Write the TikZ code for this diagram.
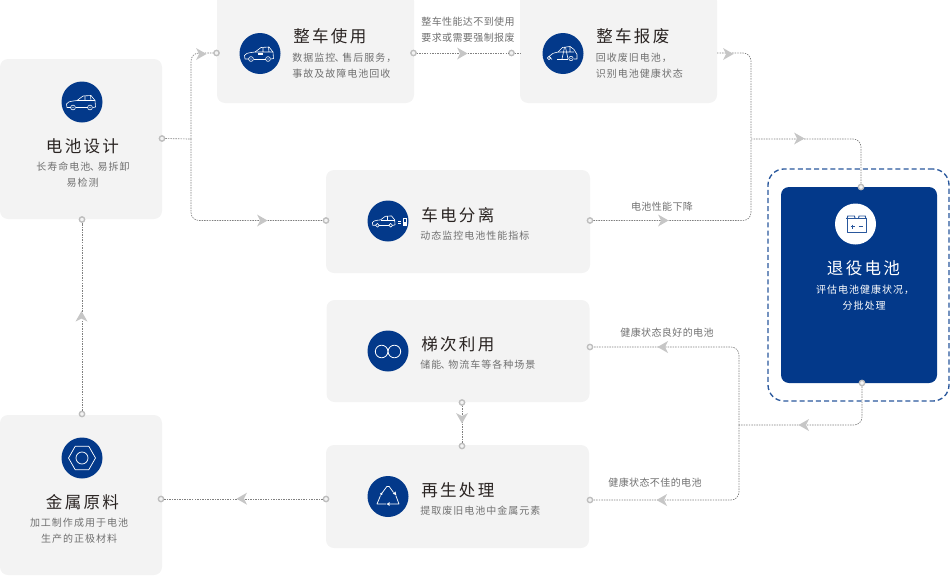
\documentclass[tikz,border=0pt]{standalone}
\usepackage{fontspec}
\setmainfont{Noto Sans CJK SC}
\newfontfamily\ttlfont[LetterSpace=14]{Noto Sans CJK SC}
\newfontfamily\subfont[LetterSpace=10]{Noto Sans CJK SC}
\newfontfamily\lblfont[LetterSpace=4]{Noto Sans CJK SC}
\definecolor{brandblue}{HTML}{03398A}
\definecolor{cardgrey}{HTML}{F3F3F3}
\definecolor{titleink}{HTML}{2A2422}
\definecolor{subink}{HTML}{707070}
\definecolor{wire}{HTML}{808080}
\definecolor{headgrey}{HTML}{C6C6C6}
\definecolor{ringgrey}{HTML}{BDBDBD}
\def\pxu{0.75pt}
\newcommand{\narrowcomma}{\kern-0.4pt、\kern-1.8pt}
\tikzset{
  card/.style={rectangle,rounded corners=6pt,fill=cardgrey,inner sep=0pt},
  blucard/.style={rectangle,rounded corners=6pt,fill=brandblue,inner sep=0pt},
  iconbg/.style={circle,fill=brandblue,minimum size=41*\pxu,inner sep=0pt},
  iconbgw/.style={circle,fill=white,minimum size=41*\pxu,inner sep=0pt},
  dotring/.style={circle,draw=ringgrey,line width=1pt,fill=cardgrey,minimum size=4pt,inner sep=0pt},
  conn/.style={draw=wire,line width=0.5pt,dash pattern=on 1.1pt off 0.8pt},
  roundbend/.style={rounded corners=6pt},
  ttl/.style={inner sep=0pt,text=titleink,font=\ttlfont\fontsize{12.4pt}{14pt}\selectfont},
  subt/.style={inner sep=0pt,text=subink,font=\subfont\fontsize{7.5pt}{9pt}\selectfont},
  lbl/.style={inner sep=0pt,text=subink,font=\lblfont\fontsize{7.5pt}{9pt}\selectfont},
  iconline/.style={draw=white,line width=0.45pt,line join=round},
  blueline/.style={draw=brandblue!85!white,line width=0.7pt,line join=round},
  flowhead/.pic={\fill[headgrey] (5.5,0) -- (-5,-6) -- (-2,0) -- (-5,6) -- cycle;},
  caricon/.pic={
    \draw[iconline] (-11,5.5) -- (-15,5.5) -- (-15.5,2) .. controls (-15,0) and (-13,-.5) .. (-5,-1.5) -- (1,-6) -- (9,-6.5) -- (13,-1.5) -- (13.5,5) -- (11,5.5);
    \draw[iconline] (-6.5,5.5) -- (5.5,5.5);
    \draw[iconline] (-5,-1.5) -- (13,-1.5) (3,-6.3) -- (3,-1.5) (8.5,-6.4) -- (9,-1.5);
    \draw[iconline] (-9,5.5) circle (2.4) (8,5.5) circle (2.4);
    \fill[white] (-9,5.5) circle (.7) (8,5.5) circle (.7);
  },
  scrapicon/.pic={
    \draw[iconline] (-11,6) -- (-14,3) .. controls (-12,0) and (-9,-.5) .. (-5,-1.5) -- (-0.5,-6) -- (7,-7) -- (11,-4) -- (14,1) -- (14,5.5) -- (11,5.5);
    \draw[iconline] (-5,-1.5) -- (11,-1.5) (1.5,-6.3) -- (-1,5.5) (2.5,-6.3) -- (5,5.5) (7,-7) -- (7,-1.5);
    \draw[iconline] (-6,5.5) -- (5,5.5);
    \draw[iconline] (-14,4.5) circle (1.8) (8,5) circle (2.2);
    \fill[white] (-14,4.5) circle (.6) (8,5) circle (.6);
  },
  infinityicon/.pic={\draw[iconline,line width=0.6pt] (-6.4,0.5) circle (6.3) (6.4,0.5) circle (6.3);},
  nuticon/.pic={
    \draw[iconline,line width=0.55pt] (-13.5,0) -- (-6.8,-11.7) -- (6.8,-11.7) -- (13.5,0) -- (6.8,11.7) -- (-6.8,11.7) -- cycle;
    \draw[iconline,line width=0.55pt] (0,0) circle (6);
  },
  recycleicon/.pic={
    \draw[iconline,line width=0.55pt] (-6.3,-3) -- (-1.2,-10) -- (1.2,-10) -- (5.5,-4);
    \draw[iconline,line width=0.55pt] (7.8,-1) -- (11,7.5) -- (2,7.5);
    \draw[iconline,line width=0.55pt] (-2,7.5) -- (-11,7.5) -- (-7.5,-1);
    \fill[white] (7.5,-5) -- (4.8,-2.8) -- (8.3,-1.3) -- cycle;
    \fill[white] (-6.7,-2.6) circle (1.3);
    \fill[white] (-1.5,7.5) -- (1.5,5.7) -- (1.5,9.3) -- cycle;
  },
  sepicon/.pic={
    \begin{scope}[shift={(-3.5,0)},scale=.78]
      \draw[iconline] (-11,5.5) -- (-15,5.5) -- (-15.5,2) .. controls (-15,0) and (-13,-.5) .. (-5,-1.5) -- (1,-6) -- (9,-6.5) -- (13,-1.5) -- (13.5,5) -- (11,5.5);
      \draw[iconline] (-6.5,5.5) -- (5.5,5.5);
      \draw[iconline] (-5,-1.5) -- (13,-1.5) (3,-6.3) -- (3,-1.5);
      \draw[iconline] (-9,5.5) circle (2.4) (8,5.5) circle (2.4);
    \end{scope}
    \draw[iconline,line width=0.6pt] (10,.2) -- (12.5,.2) (10,2.4) -- (12.5,2.4);
    \fill[white] (15,-2.8) rectangle (18.6,5);
    \fill[brandblue] (15.9,-1.8) rectangle (17.7,.6);
  },
  batteryicon/.pic={
    \draw[blueline] (-9.5,-5.7) -- (11.5,-5.7);
    \draw[blueline] (-8.5,-5.7) rectangle (10.5,8.5);
    \draw[blueline] (-8.3,-5.7) -- (-7.8,-8) -- (-1,-8) -- (-.5,-5.7);
    \draw[blueline] (3,-5.7) -- (3.5,-8) -- (9.8,-8) -- (10.3,-5.7);
    \draw[blueline] (-5,2.5) -- (-1,2.5) (-3,.5) -- (-3,4.5) (3,2.5) -- (7,2.5);
  },
}
\begin{document}
\begin{tikzpicture}[x=0.75pt,y=-0.75pt]
\useasboundingbox (0,0) rectangle (950,575);
\clip (0,0) rectangle (950,575);
% cards
\node[card,minimum width=162*\pxu,minimum height=160*\pxu] (cDesign) at (81,139) {};
\node[card,minimum width=197*\pxu,minimum height=110*\pxu] (cUse) at (315.5,48) {};
\node[card,minimum width=197*\pxu,minimum height=110*\pxu] (cScrap) at (618.5,48) {};
\node[card,minimum width=264*\pxu,minimum height=103*\pxu] (cSep) at (458,221.5) {};
\node[card,minimum width=263*\pxu,minimum height=102*\pxu] (cLadder) at (458,351) {};
\node[card,minimum width=263*\pxu,minimum height=103*\pxu] (cRegen) at (457.5,496.5) {};
\node[card,minimum width=162*\pxu,minimum height=160*\pxu] (cMetal) at (81,495) {};
\node[rectangle,rounded corners=12pt,draw=brandblue!85!white,line width=1pt,dash pattern=on 3.8pt off 2.3pt,minimum width=181*\pxu,minimum height=232*\pxu,inner sep=0pt] (cFrame) at (858.5,285) {};
\node[blucard,minimum width=156*\pxu,minimum height=196*\pxu] (cRetired) at (859,285) {};
% icons
\node[iconbg] (iDesign) at (82,102) {};
\pic at (iDesign) {caricon};
\node[iconbg] (iUse) at (260,53.5) {};
\pic at (iUse) {caricon};
\fill[white] (258,53) rectangle (263,55);
\node[iconbg] (iScrap) at (563,53.5) {};
\pic at (iScrap) {scrapicon};
\node[iconbg] (iSep) at (388,221) {};
\pic at (iSep) {sepicon};
\node[iconbg] (iLadder) at (388,351) {};
\pic at (iLadder) {infinityicon};
\node[iconbg] (iRegen) at (388,496.5) {};
\pic at (iRegen) {recycleicon};
\node[iconbg] (iMetal) at (82,458) {};
\pic at (iMetal) {nuticon};
\node[iconbgw] (iRetired) at (855.5,224) {};
\pic at (iRetired) {batteryicon};
% titles and subtitles
\node[ttl] (tDesign) at (82.5,146) {电池设计};
\node[subt] (sDesignA) at (83,167) {长寿命电池\narrowcomma 易拆卸};
\node[subt] (sDesignB) at (82.5,183) {易检测};
\node[ttl,anchor=west] (tUse) at (293,36.5) {整车使用};
\node[subt,anchor=west] (sUseA) at (292,57.5) {数据监控\narrowcomma 售后服务，};
\node[subt,anchor=west] (sUseB) at (292,74) {事故及故障电池回收};
\node[ttl,anchor=west] (tScrap) at (596,36.5) {整车报废};
\node[subt,anchor=west] (sScrapA) at (595.5,58) {回收废旧电池，};
\node[subt,anchor=west] (sScrapB) at (595.5,74) {识别电池健康状态};
\node[ttl,anchor=west] (tSep) at (421,215) {车电分离};
\node[subt,anchor=west] (sSep) at (420,236) {动态监控电池性能指标};
\node[ttl,anchor=west] (tLadder) at (421,344) {梯次利用};
\node[subt,anchor=west] (sLadder) at (420,365) {储能\narrowcomma 物流车等各种场景};
\node[ttl,anchor=west] (tRegen) at (421,490) {再生处理};
\node[subt,anchor=west] (sRegen) at (420,511) {提取废旧电池中金属元素};
\node[ttl] (tMetal) at (82.5,502) {金属原料};
\node[subt] (sMetalA) at (79,523) {加工制作成用于电池};
\node[subt] (sMetalB) at (79,539) {生产的正极材料};
\node[ttl,text=white] (tRetired) at (863.5,268) {退役电池};
\node[subt,text=white] (sRetiredA) at (865,289.5) {评估电池健康状况，};
\node[subt,text=white] (sRetiredB) at (864,305.5) {分批处理};
% connector labels
\node[lbl] (lUseA) at (468,22) {整车性能达不到使用};
\node[lbl] (lUseB) at (468,37.5) {要求或需要强制报废};
\node[lbl] (lDrop) at (662,206.5) {电池性能下降};
\node[lbl] (lGood) at (667,332.5) {健康状态良好的电池};
\node[lbl] (lBad) at (655,482.5) {健康状态不佳的电池};
% ports
\node[dotring] (pDesignR) at (162,138.5) {};
\node[dotring] (pDesignB) at (82,219.5) {};
\node[dotring] (pUseL) at (216.5,53) {};
\node[dotring] (pUseR) at (413.5,53) {};
\node[dotring] (pScrapL) at (511.5,53) {};
\node[dotring] (pSepL) at (326,220.5) {};
\node[dotring] (pSepR) at (590,220.5) {};
\node[dotring] (pRetT) at (861,187) {};
\node[dotring] (pRetB) at (862,383) {};
\node[dotring] (pLadR) at (590,347) {};
\node[dotring] (pLadB) at (462,402.5) {};
\node[dotring] (pRegT) at (462,446) {};
\node[dotring] (pRegR) at (590,500) {};
\node[dotring] (pRegL) at (326,499) {};
\node[dotring] (pMetR) at (161,499) {};
\node[dotring] (pMetT) at (82,414) {};
\coordinate (jLeft) at (191,139);
\coordinate (jRight) at (751,139);
\coordinate (jBack) at (739,425);
\coordinate (sScrapOut) at (717,53);
\coordinate (sScrapIn) at (520,53);
% connectors
\draw[conn] (pDesignR) -- (jLeft);
\draw[conn,roundbend] (jLeft) |- (pUseL);
\draw[conn,roundbend] (jLeft) |- (pSepL);
\draw[conn] (pUseR) -- (pScrapL);
\draw[conn] (pScrapL) -- (sScrapIn);
\draw[conn,roundbend] (sScrapOut) -| (jRight);
\draw[conn,roundbend] (pSepR) -| (jRight);
\draw[conn,roundbend] (jRight) -| (pRetT);
\draw[conn,roundbend] (pRetB) |- (jBack);
\draw[conn,roundbend] (jBack) |- (pLadR);
\draw[conn,roundbend] (jBack) |- (pRegR);
\draw[conn] (pLadB) -- (pRegT);
\draw[conn] (pRegL) -- (pMetR);
\draw[conn] (pMetT) -- (pDesignB);
% arrowheads
\pic at (201,54) {flowhead};
\pic at (262,220.5) {flowhead};
\pic at (462,53.5) {flowhead};
\pic at (728,54) {flowhead};
\pic at (663,220.5) {flowhead};
\pic at (799,138.5) {flowhead};
\pic[rotate=180] at (804,425) {flowhead};
\pic[rotate=180] at (663,347) {flowhead};
\pic[rotate=180] at (662,500) {flowhead};
\pic[rotate=270] at (462,418) {flowhead};
\pic[rotate=180] at (242,498.7) {flowhead};
\pic[rotate=90] at (81.5,316.5) {flowhead};
\end{tikzpicture}
\end{document}
